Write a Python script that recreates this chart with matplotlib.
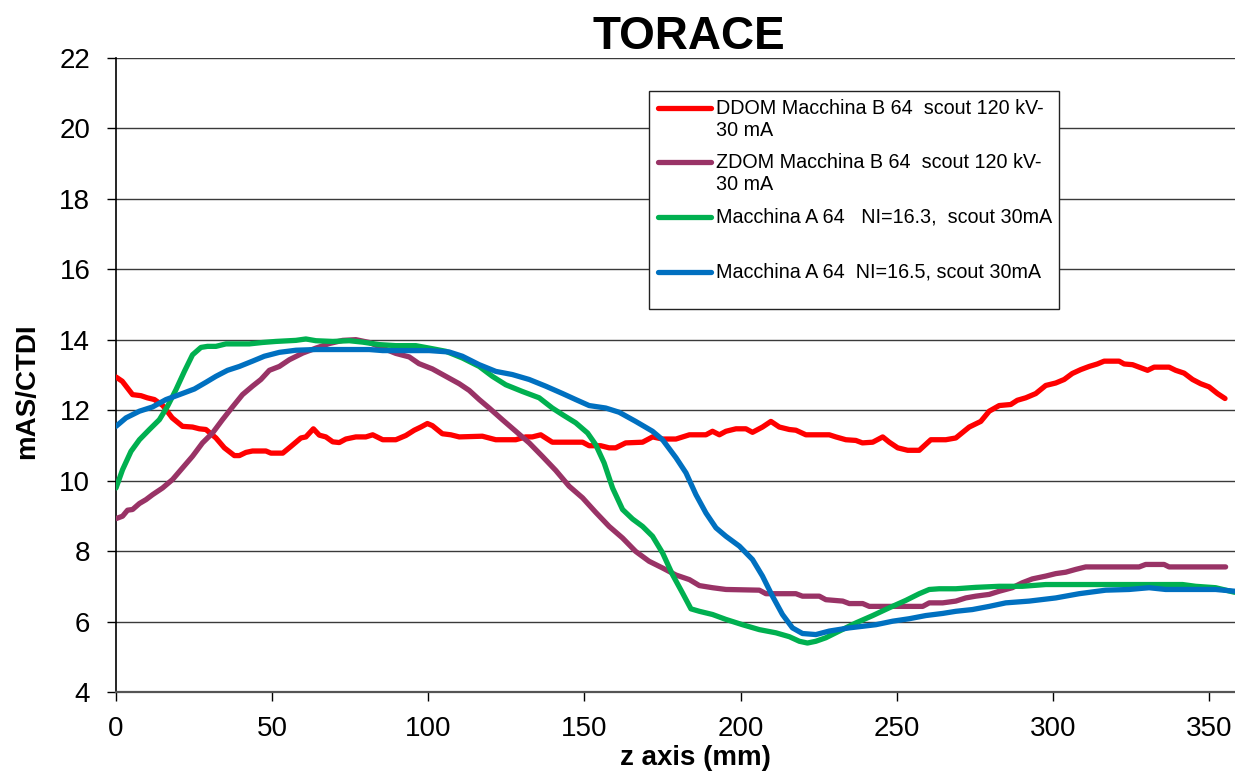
import matplotlib
matplotlib.use("Agg")
import matplotlib.pyplot as plt
from matplotlib.lines import Line2D
from matplotlib.patches import Rectangle

plt.rcParams['font.family'] = ['Liberation Sans', 'DejaVu Sans']

# ---- data -------------------------------------------------------------
title = "TORACE"
x_label = "z axis (mm)"
y_label = "mAS/CTDI"
x_ticks = [0, 50, 100, 150, 200, 250, 300, 350]
y_ticks = [4, 6, 8, 10, 12, 14, 16, 18, 20, 22]

ddom_label = ["DDOM Macchina B 64  scout 120 kV-", "30 mA"]
zdom_label = ["ZDOM Macchina B 64  scout 120 kV-", "30 mA"]
a163_label = ["Macchina A 64   NI=16.3,  scout 30mA"]
a165_label = ["Macchina A 64  NI=16.5, scout 30mA"]

ddom_z = [0, 2, 5.3, 8, 10, 12.3, 15, 18, 21.3, 24.5, 26.7, 28.8, 32, 34.7, 37.9,
          39.5, 41.6, 43.7, 48, 49.6, 53.4, 56, 59.2, 60.8, 63.2, 65.1, 67.2, 69.4,
          71.5, 73.6, 76.8, 80, 82.2, 85.4, 89.6, 92.8, 95.5, 97.6, 99.7, 101.3,
          104.5, 107.2, 109.9, 117.3, 121.6, 128, 131.2, 133.3, 136, 139.7, 149.4,
          151.5, 155.2, 157.9, 160, 163.2, 168.6, 171.8, 175, 179.3, 183.6, 188.9,
          191, 193.2, 195.3, 198.5, 201.7, 203.8, 207, 209.7, 212.4, 215.6, 217.7,
          220.9, 228.4, 230.5, 233.7, 236.9, 239, 242.3, 245.5, 247.6, 250.3, 253.5,
          257.2, 260.9, 265.7, 268.9, 273.2, 276.9, 279.6, 282.8, 286.5, 288.6,
          291.3, 294.5, 297.7, 300.9, 303.6, 306.2, 308.9, 311.6, 314.2, 316.4,
          321.2, 322.8, 325.5, 327.6, 330.3, 332.4, 337.2, 339.3, 342, 344.7, 347.3,
          350, 352.7, 355.1]
ddom_v = [12.94, 12.82, 12.44, 12.41, 12.35, 12.3, 12.13, 11.78, 11.54, 11.52, 11.47,
          11.45, 11.21, 10.93, 10.71, 10.71, 10.8, 10.84, 10.84, 10.78, 10.78, 10.97,
          11.21, 11.24, 11.47, 11.29, 11.24, 11.1, 11.08, 11.18, 11.24, 11.24, 11.3,
          11.16, 11.16, 11.28, 11.43, 11.52, 11.62, 11.56, 11.33, 11.3, 11.24, 11.26,
          11.16, 11.16, 11.24, 11.24, 11.3, 11.09, 11.09, 10.99, 10.99, 10.93, 10.93,
          11.07, 11.09, 11.24, 11.18, 11.18, 11.3, 11.3, 11.4, 11.3, 11.4, 11.47,
          11.47, 11.37, 11.52, 11.68, 11.52, 11.45, 11.43, 11.3, 11.3, 11.24, 11.16,
          11.14, 11.07, 11.09, 11.24, 11.09, 10.93, 10.86, 10.86, 11.16, 11.16, 11.21,
          11.52, 11.68, 11.97, 12.13, 12.16, 12.28, 12.35, 12.47, 12.7, 12.77, 12.87,
          13.04, 13.15, 13.24, 13.31, 13.39, 13.39, 13.31, 13.29, 13.22, 13.13, 13.22,
          13.22, 13.13, 13.05, 12.87, 12.75, 12.66, 12.47, 12.33]

zdom_z = [0, 2.1, 3.7, 5.3, 7.5, 9.6, 11.7, 14.9, 18.1, 21.3, 24.5, 27.7, 30.9, 34.1,
          37.3, 40.5, 43.7, 46.4, 49.1, 52.3, 55.5, 59.8, 64, 68.3, 72.6, 76.8, 81.1,
          85.4, 89.6, 93.9, 97, 101.3, 105.6, 109.9, 113.1, 116.3, 119.5, 123.7, 128,
          132.3, 136.5, 140.8, 145.1, 149.4, 153.6, 157.9, 162.2, 166.4, 170.7, 175,
          179.3, 183.6, 186.8, 191, 195.3, 206, 208.1, 217.7, 219.8, 225.2, 227.3,
          232.7, 234.8, 239.1, 241.2, 258.3, 260.4, 264.7, 268.9, 272.1, 275.3,
          279.6, 282.8, 287, 290.2, 293.4, 297.7, 300.9, 304.1, 307.3, 310.5, 327.6,
          329.7, 335.6, 337.2, 355.3]
zdom_v = [8.92, 8.99, 9.16, 9.18, 9.35, 9.46, 9.6, 9.79, 10.03, 10.36, 10.69, 11.07,
          11.35, 11.73, 12.09, 12.44, 12.68, 12.87, 13.13, 13.24, 13.43, 13.62, 13.76,
          13.89, 13.98, 14.0, 13.92, 13.76, 13.61, 13.51, 13.32, 13.17, 12.96, 12.75,
          12.56, 12.3, 12.06, 11.73, 11.4, 11.07, 10.69, 10.29, 9.84, 9.51, 9.1, 8.7,
          8.37, 7.99, 7.71, 7.52, 7.32, 7.19, 7.02, 6.96, 6.91, 6.89, 6.79, 6.79, 6.72,
          6.72, 6.62, 6.58, 6.51, 6.51, 6.43, 6.43, 6.53, 6.53, 6.58, 6.67, 6.72, 6.77,
          6.86, 6.96, 7.1, 7.21, 7.29, 7.36, 7.4, 7.48, 7.55, 7.55, 7.62, 7.62, 7.55,
          7.55]

a163_z = [0, 2.1, 4.8, 7.5, 10.7, 13.9, 16.5, 19.2, 21.9, 24.5, 27.2, 29.3, 32, 35.2,
          42.7, 46.9, 51.2, 57.6, 60.8, 64, 69.4, 74.7, 79, 84.3, 89.6, 96, 100.3,
          105.6, 110.9, 116.3, 120.5, 124.8, 130.1, 135.5, 139.7, 143, 147.2, 151,
          153.6, 156.3, 159, 162.2, 165.4, 168.6, 171.8, 175, 178.2, 181.4, 184.1,
          186.8, 191, 195.3, 200.6, 206, 211.3, 215.6, 218.8, 221.4, 224.1, 227.3,
          231.6, 236.9, 242.3, 247.6, 252.9, 257.2, 260.4, 263.6, 268.9, 275.3, 282.8,
          290.2, 297.7, 311.6, 327.6, 341.5, 345.7, 352.1, 358.2]
a163_v = [9.79, 10.31, 10.83, 11.16, 11.45, 11.73, 12.11, 12.58, 13.1, 13.57, 13.78,
          13.81, 13.81, 13.88, 13.88, 13.92, 13.95, 13.98, 14.02, 13.97, 13.95, 13.97,
          13.93, 13.86, 13.83, 13.83, 13.76, 13.67, 13.48, 13.24, 12.96, 12.72, 12.53,
          12.35, 12.06, 11.87, 11.64, 11.35, 11.02, 10.5, 9.79, 9.18, 8.91, 8.7, 8.42,
          7.95, 7.33, 6.81, 6.36, 6.29, 6.2, 6.06, 5.91, 5.77, 5.68, 5.57, 5.44, 5.39,
          5.44, 5.54, 5.73, 5.96, 6.17, 6.39, 6.6, 6.79, 6.91, 6.93, 6.93, 6.97, 7.0,
          7.0, 7.05, 7.05, 7.05, 7.05, 7.0, 6.96, 6.83]

a165_z = [0, 3.2, 7.5, 11.7, 16, 20.3, 25.1, 28.8, 32, 35.7, 39.5, 43.7, 47.5, 52.3,
          57.6, 64, 74.7, 81.1, 85.4, 89.6, 100.3, 106.7, 110.9, 116.3, 121.6, 126.9,
          132.3, 137.6, 143, 147.2, 151.5, 156.8, 161.1, 166.4, 171.8, 175, 179.3,
          182.5, 185.7, 188.9, 192.1, 195.3, 199.6, 203.8, 207, 210.2, 213.4, 216.6,
          219.8, 224.1, 228.4, 234.8, 243.3, 248.7, 254, 259.3, 264.7, 268.9, 274.2,
          279.6, 284.9, 292.4, 300.9, 308.4, 316.9, 324.4, 330.8, 336.1, 343.6, 352.1,
          358.2]
a165_v = [11.54, 11.78, 11.97, 12.09, 12.3, 12.44, 12.6, 12.79, 12.96, 13.13, 13.24,
          13.39, 13.53, 13.64, 13.7, 13.72, 13.72, 13.72, 13.69, 13.69, 13.69, 13.65,
          13.53, 13.29, 13.1, 13.01, 12.87, 12.68, 12.47, 12.3, 12.13, 12.06, 11.94,
          11.68, 11.4, 11.16, 10.65, 10.22, 9.6, 9.08, 8.66, 8.42, 8.14, 7.76, 7.29,
          6.72, 6.2, 5.82, 5.66, 5.63, 5.73, 5.82, 5.91, 6.01, 6.08, 6.17, 6.23, 6.29,
          6.34, 6.43, 6.53, 6.58, 6.67, 6.79, 6.89, 6.91, 6.96, 6.91, 6.91, 6.91, 6.86]

RED = "#FF0000"
PLUM = "#993366"
GREEN = "#00B050"
BLUE = "#0070C0"

# ---- figure -------------------------------------------------------------
W, H = 1235, 776
fig = plt.figure(figsize=(W / 100, H / 100), dpi=100)


def fx(px):
    return px / W


def fy(py):
    return 1 - py / H


ax = fig.add_axes([fx(116), fy(692), fx(1235) - fx(116), fy(57.8) - fy(692)])
ax.set_xlim(0, 358.3)
ax.set_ylim(4, 22)

for yv in y_ticks[1:]:
    ax.axhline(yv, color="#3a3a3a", lw=1.0, zorder=1)

line_kw = dict(lw=3.8, solid_capstyle="round", solid_joinstyle="round", zorder=3)
ax.plot(ddom_z, ddom_v, color=RED, **line_kw)
ax.plot(zdom_z, zdom_v, color=PLUM, **line_kw)
ax.plot(a163_z, a163_v, color=GREEN, **line_kw)
ax.plot(a165_z, a165_v, color=BLUE, **line_kw)

ax.set_xticks(x_ticks)
ax.set_yticks(y_ticks)
ax.tick_params(axis="both", direction="out", length=6.5, width=1.0, labelsize=20,
               color="black")
ax.tick_params(axis="y", pad=12)
ax.tick_params(axis="x", pad=11)
for s in ("top", "right"):
    ax.spines[s].set_visible(False)
ax.spines["left"].set_color("black")
ax.spines["left"].set_linewidth(1.2)
ax.spines["bottom"].set_color("#555555")
ax.spines["bottom"].set_linewidth(1.6)

# titles and axis labels
fig.text(fx(689), fy(49), title, fontsize=33, fontweight="bold",
         ha="center", va="baseline")
fig.text(fx(695), fy(758), x_label, fontsize=20, fontweight="bold",
         ha="center", va="center")
fig.text(fx(27), fy(391), y_label, fontsize=20, fontweight="bold",
         ha="center", va="center", rotation=90)

# legend box
box = Rectangle((fx(649), fy(309)), fx(1059) - fx(649), fy(91) - fy(309),
                transform=fig.transFigure, facecolor="white", edgecolor="#222222",
                lw=1.0, zorder=5)
fig.add_artist(box)

entries = [
    (RED, ddom_label, 108),
    (PLUM, zdom_label, 162),
    (GREEN, a163_label, 217),
    (BLUE, a165_label, 272),
]
for color, lines, ytop in entries:
    fig.add_artist(Line2D([fx(658), fx(711)], [fy(ytop), fy(ytop)],
                          transform=fig.transFigure, color=color, lw=3.8,
                          solid_capstyle="round", zorder=6))
    for i, txt in enumerate(lines):
        fig.text(fx(716), fy(ytop + 22.5 * i), txt, fontsize=14.2,
                 ha="left", va="center", zorder=7)

fig.savefig("out.png", dpi=100)
